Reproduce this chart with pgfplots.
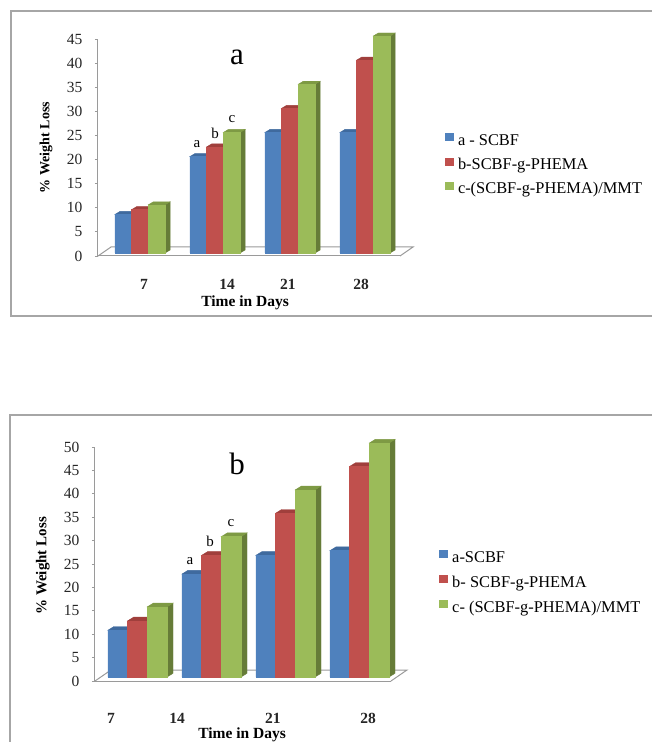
\documentclass[border=0pt]{standalone}
\usepackage{fontspec}
\setmainfont{Liberation Serif}
\usepackage{pgfplots}
\usepackage{pgfplotstable}
\pgfplotsset{compat=1.18}

\definecolor{bluef}{HTML}{4F81BD}
\definecolor{redf}{HTML}{C0504D}
\definecolor{greenf}{HTML}{9BBB59}
\definecolor{blues}{HTML}{385D8A}
\definecolor{reds}{HTML}{8C3836}
\definecolor{greens}{HTML}{667C38}
\definecolor{bluet}{HTML}{3F6A9E}
\definecolor{redt}{HTML}{A03F3C}
\definecolor{greent}{HTML}{7E9A44}
\definecolor{framec}{HTML}{A6A6A6}
\definecolor{wallc}{HTML}{9A9A9A}

\pgfplotstableread{
g day a b c
0 7 8 9 10
1 14 20 22 25
2 21 25 30 35
3 28 25 40 45
}\tblA
\pgfplotstableread{
g day a b c
0 7 10 12 15
1 14 22 26 30
2 21 26 35 40
3 28 27 45 50
}\tblB

\pgfdeclareplotmark{nil}{}

% faces of a bar: front, side, top, half width, dx, dy, pt per unit
\pgfplotsset{
  depth/.style n args={7}{
    only marks, mark=nil, scatter, forget plot,
    visualization depends on=rawy\as\barh,
    scatter/@pre marker code/.code={
      \pgfmathsetmacro\hh{\barh*#7}
      \fill[#2] (#4pt,0pt) -- ++(#5pt,#6pt) -- ++(0pt,-\hh pt) -- ++(-#5pt,-#6pt) -- cycle;
      \fill[#3] (-#4pt,0pt) -- ++(#5pt,#6pt) -- ++(2*#4pt,0pt) -- ++(-#5pt,-#6pt) -- cycle;
      \fill[#1] (-#4pt,0pt) rectangle (#4pt,-\hh pt);
    },
    scatter/@post marker code/.code={}
  },
  panel/.style={
    scale only axis, clip=false,
    axis lines=left, axis line style={wallc,line width=1pt,-},
    tick style={wallc,line width=0.8pt}, major tick length=3pt, tick align=outside,
    xtick style={draw=none},
    /pgf/number format/assume math mode=true,
    tick label style={text=black!85},
    y tick label style={font=\fontsize{15.5}{16}\selectfont},
    x tick label style={font=\fontsize{15.5}{16}\selectfont\bfseries, anchor=center},
    xlabel style={font=\fontsize{15.5}{16}\selectfont\bfseries, anchor=center, inner sep=0pt},
    ylabel style={font=\fontsize{14}{15}\selectfont\bfseries, anchor=center, rotate=0},
    legend style={draw=none, fill=none, font=\fontsize{16.4}{17}\selectfont,
      anchor=west, legend cell align=left, inner sep=0pt, outer sep=0pt,
      /tikz/every odd column/.append style={column sep=2pt}},
    legend image code/.code={\fill[##1] (0pt,-4pt) rectangle (9pt,4pt);},
  }
}

\begin{document}
\begin{tikzpicture}[x=1pt,y=1pt]
\useasboundingbox (0,0) rectangle (651,742);
\draw[framec,line width=1.2pt] (11,731) rectangle (660,426);
\draw[framec,line width=1.2pt] (660,327) -- (10,327) -- (10,-10);

% panel a
\begin{axis}[panel,
  at={(98pt,486pt)}, anchor=south west,
  width=302pt, height=217pt,
  xmin=-0.56, xmax=3.4667, ymin=0, ymax=45,
  ytick={0,5,...,45},
  xtick={0.053,1.16,1.973,2.947}, xticklabels={7,14,21,28},
  x tick label style={yshift=-25pt},
  y tick label style={xshift=-9pt},
  xlabel={Time in Days}, ylabel={\% Weight Loss},
  xlabel style={at={(axis description cs:0.487,-0.216)}},
  ylabel style={at={(axis description cs:-0.172,0.5)}},
  legend style={at={(axis description cs:1.149,0.42)}, row sep=7.5pt},
]
\draw[wallc,line width=1pt] (axis description cs:0,0) -- ++(13pt,9pt) -- ++(302pt,0pt) -- ++(-13pt,-9pt);
\addplot[ybar, bar width=16.7pt, bar shift=-16.7pt, yshift=3pt, fill=bluef, draw=none] table[x=g,y=a]{\tblA};
\addplot[ybar, bar width=16.7pt, bar shift=0pt, yshift=3pt, fill=redf, draw=none] table[x=g,y=b]{\tblA};
\addplot[ybar, bar width=16.7pt, bar shift=16.7pt, yshift=3pt, fill=greenf, draw=none] table[x=g,y=c]{\tblA};
\addplot[depth={bluef}{blues}{bluet}{8.35}{5}{3}{4.822}, xshift=-16.7pt, yshift=3pt] table[x=g,y=a]{\tblA};
\addplot[depth={redf}{reds}{redt}{8.35}{5}{3}{4.822}, yshift=3pt] table[x=g,y=b]{\tblA};
\addplot[depth={greenf}{greens}{greent}{8.35}{5}{3}{4.822}, xshift=16.7pt, yshift=3pt] table[x=g,y=c]{\tblA};
\legend{a - SCBF,b-SCBF-g-PHEMA,c-(SCBF-g-PHEMA)/MMT}
\end{axis}
\node[font=\fontsize{31}{31}\selectfont] at (237,685) {a};
\node[font=\fontsize{15}{15}\selectfont] at (197,598) {a};
\node[font=\fontsize{15}{15}\selectfont] at (215,609) {b};
\node[font=\fontsize{15}{15}\selectfont] at (232,623) {c};

% panel b
\begin{axis}[panel,
  at={(95pt,61pt)}, anchor=south west,
  width=296pt, height=234pt,
  xmin=-0.5743, xmax=3.4257, ymin=0, ymax=50,
  ytick={0,5,...,50},
  xtick={-0.358,0.534,1.831,3.115}, xticklabels={7,14,21,28},
  x tick label style={yshift=-34pt},
  y tick label style={xshift=-9pt},
  xlabel={Time in Days}, ylabel={\% Weight Loss},
  xlabel style={at={(axis description cs:0.497,-0.228)}},
  ylabel style={at={(axis description cs:-0.176,0.492)}, font=\fontsize{15}{16}\selectfont\bfseries},
  legend style={at={(axis description cs:1.163,0.418)}, row sep=8pt},
]
\draw[wallc,line width=1pt] (axis description cs:0,0) -- ++(16pt,11pt) -- ++(296pt,0pt) -- ++(-16pt,-11pt);
\addplot[ybar, bar width=19.7pt, bar shift=-19.7pt, yshift=4pt, fill=bluef, draw=none] table[x=g,y=a]{\tblB};
\addplot[ybar, bar width=19.7pt, bar shift=0pt, yshift=4pt, fill=redf, draw=none] table[x=g,y=b]{\tblB};
\addplot[ybar, bar width=19.7pt, bar shift=19.7pt, yshift=4pt, fill=greenf, draw=none] table[x=g,y=c]{\tblB};
\addplot[depth={bluef}{blues}{bluet}{9.85}{6}{3.7}{4.68}, xshift=-19.7pt, yshift=4pt] table[x=g,y=a]{\tblB};
\addplot[depth={redf}{reds}{redt}{9.85}{6}{3.7}{4.68}, yshift=4pt] table[x=g,y=b]{\tblB};
\addplot[depth={greenf}{greens}{greent}{9.85}{6}{3.7}{4.68}, xshift=19.7pt, yshift=4pt] table[x=g,y=c]{\tblB};
\legend{a-SCBF,b- SCBF-g-PHEMA,c- (SCBF-g-PHEMA)/MMT}
\end{axis}
\node[font=\fontsize{31}{31}\selectfont] at (237,278) {b};
\node[font=\fontsize{15}{15}\selectfont] at (190,181) {a};
\node[font=\fontsize{15}{15}\selectfont] at (210,201) {b};
\node[font=\fontsize{15}{15}\selectfont] at (231,219) {c};
\end{tikzpicture}
\end{document}
